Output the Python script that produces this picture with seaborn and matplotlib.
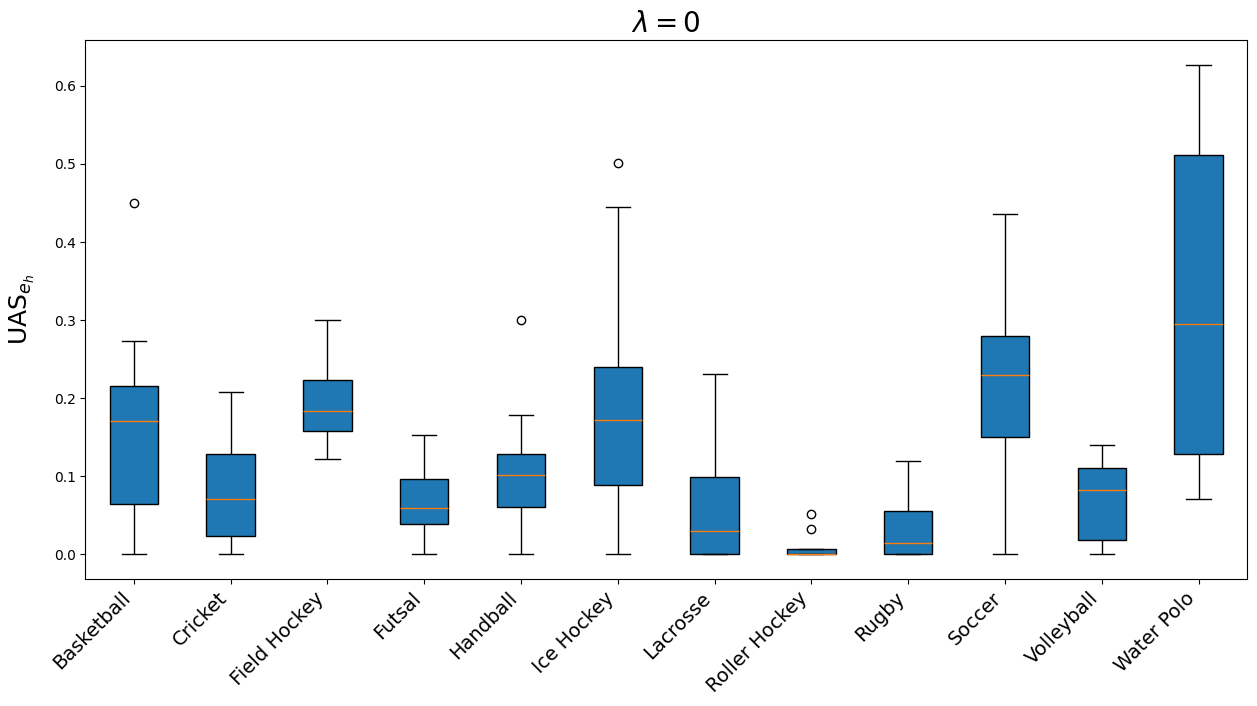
import matplotlib
matplotlib.use("Agg")
import matplotlib.pyplot as plt
import seaborn as sns
import pandas as pd

sports = ["Basketball", "Cricket", "Field Hockey", "Futsal", "Handball", "Ice Hockey",
          "Lacrosse", "Roller Hockey", "Rugby", "Soccer", "Volleyball", "Water Polo"]

# Sample values per sport (whiskers, quartiles, medians, outliers)
basketball = [0.0, 0.03, 0.064, 0.12, 0.171, 0.19, 0.216, 0.273, 0.450]
cricket = [0.0, 0.01, 0.024, 0.05, 0.071, 0.10, 0.128, 0.17, 0.208]
field_hockey = [0.122, 0.14, 0.158, 0.17, 0.184, 0.20, 0.223, 0.26, 0.300]
futsal = [0.0, 0.02, 0.039, 0.05, 0.060, 0.08, 0.097, 0.12, 0.153]
handball = [0.0, 0.03, 0.061, 0.08, 0.102, 0.115, 0.128, 0.179, 0.300]
ice_hockey = [0.0, 0.05, 0.089, 0.13, 0.172, 0.20, 0.240, 0.445, 0.501]
lacrosse = [0.0, 0.0, 0.0, 0.01, 0.030, 0.06, 0.099, 0.15, 0.231]
roller_hockey = [0.0, 0.0, 0.0, 0.0, 0.0, 0.0, 0.0, 0.003, 0.005, 0.007, 0.007, 0.033, 0.052]
rugby = [0.0, 0.0, 0.0, 0.005, 0.015, 0.03, 0.055, 0.09, 0.120]
soccer = [0.0, 0.08, 0.150, 0.19, 0.230, 0.25, 0.280, 0.36, 0.436]
volleyball = [0.0, 0.01, 0.019, 0.05, 0.083, 0.10, 0.111, 0.125, 0.140]
water_polo = [0.071, 0.10, 0.129, 0.20, 0.295, 0.40, 0.512, 0.57, 0.627]

values = [basketball, cricket, field_hockey, futsal, handball, ice_hockey,
          lacrosse, roller_hockey, rugby, soccer, volleyball, water_polo]

rows = [(s, v) for s, vals in zip(sports, values) for v in vals]
df = pd.DataFrame(rows, columns=["sport", "uas"])

fig, ax = plt.subplots(figsize=(12.57, 7.06), dpi=100)
fig.subplots_adjust(left=0.068, right=0.992, top=0.943, bottom=0.180)

sns.boxplot(data=df, x="sport", y="uas", order=sports, ax=ax,
            color="#1f77b4", saturation=1, width=0.5, linecolor="black",
            linewidth=1, fliersize=6,
            medianprops=dict(color="#ff7f0e", linewidth=1),
            flierprops=dict(marker="o", markerfacecolor="none",
                            markeredgecolor="black"))

ax.set_title(r"$\lambda = 0$", fontsize=20)
ax.set_ylabel(r"UAS$_{e_h}$", fontsize=18, labelpad=12)
ax.set_xlabel("")
ax.set_xlim(-0.5, len(sports) - 0.5)
ax.set_xticks(range(len(sports)))
ax.set_xticklabels(sports, rotation=45, ha="right", fontsize=14, rotation_mode="default")
ax.tick_params(axis="y", labelsize=10)

fig.savefig("out.png", dpi=100)
